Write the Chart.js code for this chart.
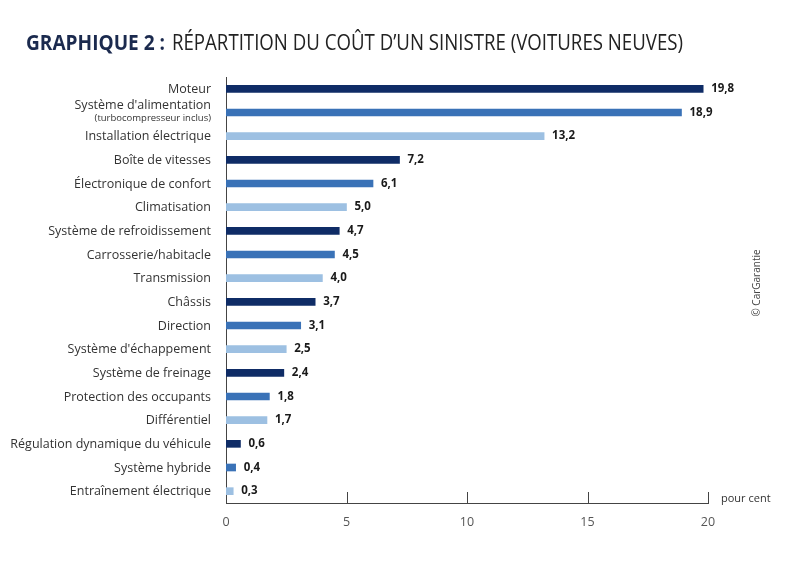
<!DOCTYPE html>
<html>
<head>
<meta charset="utf-8">
<script src="https://cdn.jsdelivr.net/npm/chart.js"></script>
<style>
  html, body { margin: 0; padding: 0; background: #fff; }
  #wrap { width: 800px; height: 584px; }
</style>
</head>
<body>
<div id="wrap"><canvas id="chart" width="800" height="584"></canvas></div>
<script>
const categories = [
    ["Moteur"],
    ["Système d'alimentation", "(turbocompresseur inclus)"],
    ["Installation électrique"],
    ["Boîte de vitesses"],
    ["Électronique de confort"],
    ["Climatisation"],
    ["Système de refroidissement"],
    ["Carrosserie/habitacle"],
    ["Transmission"],
    ["Châssis"],
    ["Direction"],
    ["Système d'échappement"],
    ["Système de freinage"],
    ["Protection des occupants"],
    ["Différentiel"],
    ["Régulation dynamique du véhicule"],
    ["Système hybride"],
    ["Entraînement électrique"]
];
const shares = [19.8, 18.9, 13.2, 7.2, 6.1, 5.0, 4.7, 4.5, 4.0, 3.7, 3.1, 2.5, 2.4, 1.8, 1.7, 0.6, 0.4, 0.3];
const xTicks = [0, 5, 10, 15, 20];

const palette = ["#0f2c66", "#3a72b7", "#9dc0e2"];
const barColors = shares.map((_, i) => palette[i % 3]);

const FONT = "'Open Sans', 'Noto Sans', sans-serif";

// draw text squeezed/stretched horizontally to an exact width
function textToWidth(ctx, text, x, y, targetW) {
    const w = ctx.measureText(text).width;
    ctx.save();
    ctx.translate(x, y);
    ctx.scale(targetW / w, 1);
    ctx.fillText(text, 0, 0);
    ctx.restore();
}

const decorPlugin = {
    id: "decor",
    afterDraw(chart) {
        const ctx = chart.ctx;
        const x = chart.scales.x;
        const y = chart.scales.y;
        ctx.save();

        // title
        ctx.textBaseline = "alphabetic";
        ctx.textAlign = "left";
        ctx.fillStyle = "#1b2a4e";
        ctx.font = "bold 21px " + FONT;
        textToWidth(ctx, "GRAPHIQUE 2 :", 26, 50, 139);
        ctx.font = "21px " + FONT;
        ctx.fillStyle = "#222";
        textToWidth(ctx, "RÉPARTITION DU COÛT D’UN SINISTRE (VOITURES NEUVES)", 172, 50, 511);

        // category labels
        ctx.textAlign = "right";
        ctx.fillStyle = "#333";
        ctx.textBaseline = "middle";
        categories.forEach((lab, i) => {
            const py = y.getPixelForValue(i);
            ctx.font = "12.5px " + FONT;
            if (lab.length === 1) {
                ctx.fillText(lab[0], 211, py + 0.5);
            } else {
                ctx.fillText(lab[0], 211, py - 7);
                ctx.font = "9.5px " + FONT;
                ctx.fillText(lab[1], 211, py + 6);
            }
        });

        // value labels
        ctx.textAlign = "left";
        ctx.textBaseline = "middle";
        ctx.fillStyle = "#1a1a1a";
        ctx.font = "bold 11.5px " + FONT;
        const meta = chart.getDatasetMeta(0);
        meta.data.forEach((bar, i) => {
            ctx.fillText(shares[i].toFixed(1).replace(".", ","), bar.x + 8, bar.y);
        });

        // upward tick marks
        ctx.strokeStyle = "#444";
        ctx.lineWidth = 1;
        xTicks.slice(1).forEach(v => {
            const px = Math.round(x.getPixelForValue(v)) + 0.5;
            ctx.beginPath();
            ctx.moveTo(px, x.top);
            ctx.lineTo(px, x.top - 11);
            ctx.stroke();
        });

        // unit
        ctx.fillStyle = "#333";
        ctx.font = "11px " + FONT;
        ctx.textBaseline = "middle";
        ctx.fillText("pour cent", x.right + 13, x.top - 4);

        // credit
        ctx.save();
        ctx.translate(757, 283);
        ctx.rotate(-Math.PI / 2);
        ctx.textAlign = "center";
        ctx.font = "10px " + FONT;
        ctx.fillStyle = "#444";
        ctx.fillText("© CarGarantie", 0, 0);
        ctx.restore();

        ctx.restore();
    }
};

new Chart(document.getElementById("chart"), {
    type: "bar",
    data: {
        labels: categories.map(c => c.join(" ")),
        datasets: [{
            data: shares,
            backgroundColor: barColors,
            borderWidth: 0,
            barThickness: 7
        }]
    },
    options: {
        indexAxis: "y",
        responsive: false,
        animation: false,
        devicePixelRatio: 1,
        layout: { padding: { top: 77, right: 92, left: 0, bottom: 0 } },
        plugins: {
            legend: { display: false },
            tooltip: { enabled: false }
        },
        scales: {
            x: {
                min: 0,
                max: 20,
                afterBuildTicks: s => { s.ticks = xTicks.map(v => ({ value: v })); },
                afterFit: s => { s.height = 81; },
                grid: { display: false, drawTicks: false },
                border: { display: true, color: "#444", width: 1 },
                ticks: {
                    padding: 12,
                    color: "#555",
                    font: { family: FONT, size: 12.5 }
                }
            },
            y: {
                afterFit: s => { s.width = 226; },
                grid: { display: false, drawTicks: false },
                border: { display: true, color: "#444", width: 1 },
                ticks: { display: false }
            }
        }
    },
    plugins: [decorPlugin]
});
</script>
</body>
</html>
